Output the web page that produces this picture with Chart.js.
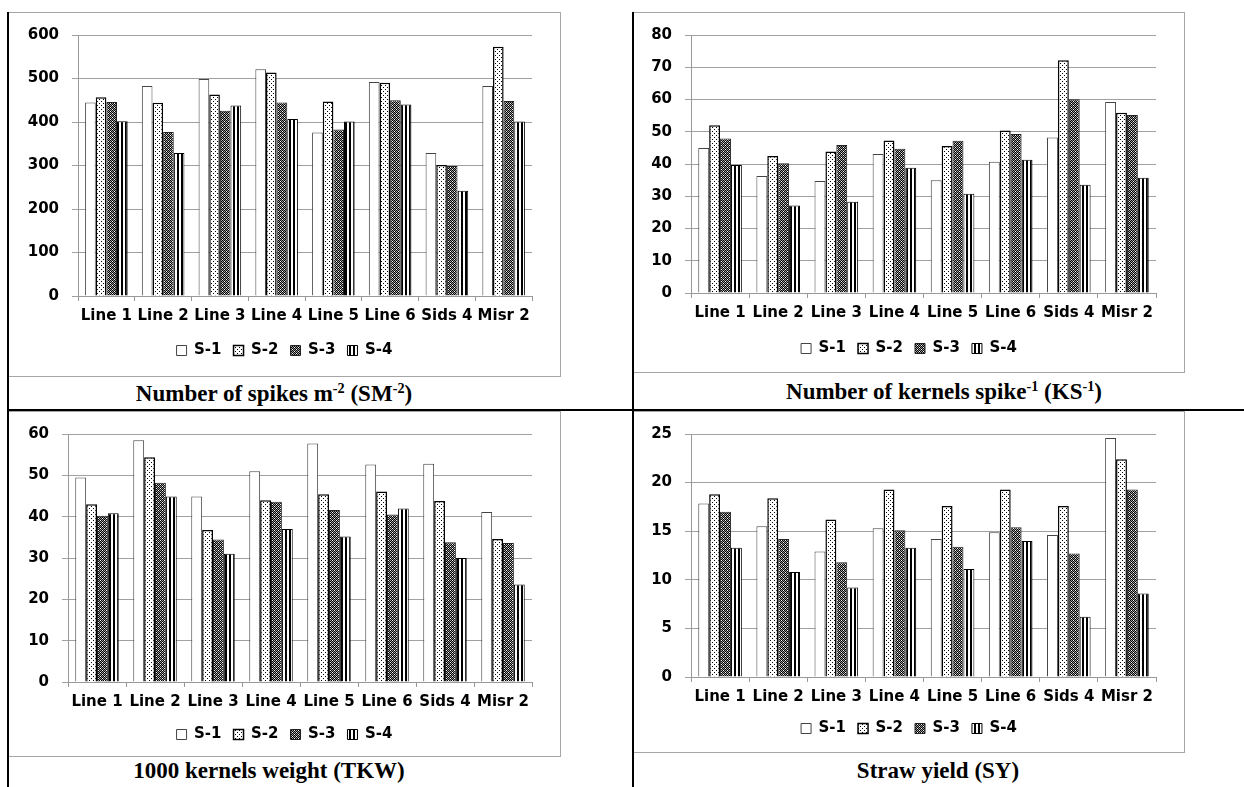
<!DOCTYPE html>
<html>
<head>
<meta charset="utf-8">
<script src="https://cdn.jsdelivr.net/npm/chart.js@4.4.1/dist/chart.umd.min.js"></script>
<style>
  body { margin: 0; background: #fff; }
  #page { position: relative; width: 1244px; height: 787px; overflow: hidden; }
  .box { position: absolute; border: 1px solid #a6a6a6; }
  .box canvas { position: absolute; left: 0; top: 0; }
  .rule { position: absolute; background: #000; z-index: 5; }
  .cap { position: absolute; font-family: "Liberation Serif"; font-weight: bold; font-size: 23px;
         white-space: nowrap; transform: translateX(-50%); line-height: 26px; }
  .cap sup { font-size: 0.62em; vertical-align: 0.55em; line-height: 0; }
</style>
</head>
<body>
<div id="page">
  <div class="box" style="left:8px;top:12px;width:551px;height:363px"><canvas id="sm" width="551" height="363"></canvas></div>
  <div class="box" style="left:633px;top:12px;width:550px;height:359px"><canvas id="ks" width="550" height="359"></canvas></div>
  <div class="box" style="left:8px;top:411px;width:551px;height:344px"><canvas id="tkw" width="551" height="344"></canvas></div>
  <div class="box" style="left:633px;top:411px;width:550px;height:340px"><canvas id="sy" width="550" height="340"></canvas></div>

  <div class="rule" style="left:7px;top:12px;width:2px;height:775px"></div>
  <div class="rule" style="left:632px;top:12px;width:2px;height:775px"></div>
  <div class="rule" style="left:7px;top:409px;width:1237px;height:2px"></div>

  <div class="cap" style="left:274px;top:381px">Number of spikes m<sup>-2</sup> (SM<sup>-2</sup>)</div>
  <div class="cap" style="left:944px;top:379px">Number of kernels spike<sup>-1</sup> (KS<sup>-1</sup>)</div>
  <div class="cap" style="left:269px;top:758px">1000 kernels weight (TKW)</div>
  <div class="cap" style="left:938px;top:758px">Straw yield (SY)</div>
</div>
<script>
const categories = ["Line 1", "Line 2", "Line 3", "Line 4", "Line 5", "Line 6", "Sids 4", "Misr 2"];
const seriesNames = ["S-1", "S-2", "S-3", "S-4"];

// Number of spikes m-2
const smS1 = [445, 483, 499, 521, 376, 492, 329, 483];
const smS2 = [457, 444, 463, 514, 447, 490, 301, 573];
const smS3 = [446, 377, 426, 445, 383, 450, 299, 448];
const smS4 = [402, 329, 438, 407, 401, 440, 242, 401];

// Number of kernels spike-1
const ksS1 = [45.0, 36.3, 34.7, 43.1, 35.0, 40.7, 48.2, 59.2];
const ksS2 = [52.0, 42.5, 43.9, 47.3, 45.6, 50.4, 72.2, 55.9];
const ksS3 = [47.9, 40.2, 45.9, 44.7, 47.2, 49.3, 60.1, 55.2];
const ksS4 = [39.7, 27.1, 28.3, 38.8, 30.8, 41.3, 33.6, 35.7];

// 1000 kernels weight
const tkwS1 = [49.5, 58.5, 44.9, 51.0, 57.7, 52.6, 52.8, 41.1];
const tkwS2 = [43.0, 54.4, 36.8, 44.0, 45.4, 46.1, 43.8, 34.6];
const tkwS3 = [40.2, 48.2, 34.5, 43.6, 41.6, 40.5, 33.8, 33.6];
const tkwS4 = [40.8, 44.9, 31.0, 37.0, 35.2, 42.0, 30.0, 23.6];

// Straw yield
const syS1 = [17.85, 15.5, 12.9, 15.3, 14.2, 14.9, 14.6, 24.6];
const syS2 = [18.8, 18.4, 16.2, 19.3, 17.6, 19.3, 17.6, 22.4];
const syS3 = [17.0, 14.2, 11.8, 15.1, 13.4, 15.4, 12.7, 19.3];
const syS4 = [13.3, 10.8, 9.2, 13.3, 11.1, 14.0, 6.2, 8.6];

// fill patterns like the Excel ones
function makePattern(w, h, paint) {
  const c = document.createElement("canvas");
  c.width = w; c.height = h;
  const g = c.getContext("2d");
  paint(g);
  return g.createPattern(c, "repeat");
}
const dotted = makePattern(4, 4, g => {
  g.fillStyle = "#fff"; g.fillRect(0, 0, 4, 4);
  g.fillStyle = "#000"; g.fillRect(0, 0, 1, 1); g.fillRect(2, 2, 1, 1);
});
const checked = makePattern(4, 4, g => {
  g.fillStyle = "#999"; g.fillRect(0, 0, 4, 4);
  g.fillStyle = "#000";
  for (let x = 0; x < 4; x++) for (let y = 0; y < 4; y++) if ((x + y) % 2 === 0) g.fillRect(x, y, 1, 1);
  g.fillStyle = "#fff"; g.fillRect(1, 2, 1, 1); g.fillRect(3, 0, 1, 1);
});
const striped = makePattern(4, 1, g => {
  g.fillStyle = "#fff"; g.fillRect(0, 0, 4, 1);
  g.fillStyle = "#000"; g.fillRect(0, 0, 2, 1);
});

const fills = ["#ffffff", dotted, checked, striped];
const borders = ["#444", "#000", "#222", "#000"];
const borderWidths = [1, 1.5, 1, 1];

const boldFont = { family: "DejaVu Sans", size: 15, weight: "bold" };

function buildChart(id, series, yMax, yStep, geo) {
  const datasets = series.map((vals, i) => ({
    label: seriesNames[i],
    data: vals,
    backgroundColor: fills[i],
    borderColor: borders[i],
    borderWidth: borderWidths[i],
    categoryPercentage: 0.75,
    barPercentage: 1.0
  }));
  return new Chart(document.getElementById(id).getContext("2d"), {
    type: "bar",
    data: { labels: categories, datasets: datasets },
    options: {
      responsive: false,
      animation: false,
      layout: { padding: { top: geo.top, bottom: geo.bottom, left: 0, right: 0 } },
      plugins: {
        tooltip: { enabled: false },
        legend: {
          position: "bottom",
          labels: { boxWidth: 10, boxHeight: 10, padding: 12, color: "#000", font: boldFont }
        }
      },
      scales: {
        x: {
          grid: { display: true, drawOnChartArea: false, drawTicks: true, tickLength: 5, color: "#999", offset: true },
          border: { color: "#999" },
          ticks: { color: "#000", font: boldFont, padding: 6, maxRotation: 0, autoSkip: false },
          afterFit: s => { s.height = geo.xH; }
        },
        y: {
          min: 0,
          max: yMax,
          grid: { color: "#a0a0a0", tickLength: 6 },
          border: { color: "#999" },
          ticks: { stepSize: yStep, color: "#000", font: boldFont, padding: 13 },
          afterFit: s => { s.width = geo.yW; }
        },
        pad: {
          type: "linear",
          position: "right",
          display: true,
          grid: { display: false },
          border: { display: false },
          ticks: { display: false },
          afterFit: s => { s.width = geo.right; }
        }
      }
    }
  });
}

buildChart("sm", [smS1, smS2, smS3, smS4], 600, 100, { top: 17, bottom: 8, xH: 35, yW: 69, right: 28 });
buildChart("ks", [ksS1, ksS2, ksS3, ksS4], 80, 10, { top: 17, bottom: 6, xH: 36, yW: 57, right: 28 });
buildChart("tkw", [tkwS1, tkwS2, tkwS3, tkwS4], 60, 10, { top: 17, bottom: 4, xH: 33, yW: 59, right: 28 });
buildChart("sy", [syS1, syS2, syS3, syS4], 25, 5, { top: 16, bottom: 6, xH: 32, yW: 57, right: 28 });
</script>
</body>
</html>
